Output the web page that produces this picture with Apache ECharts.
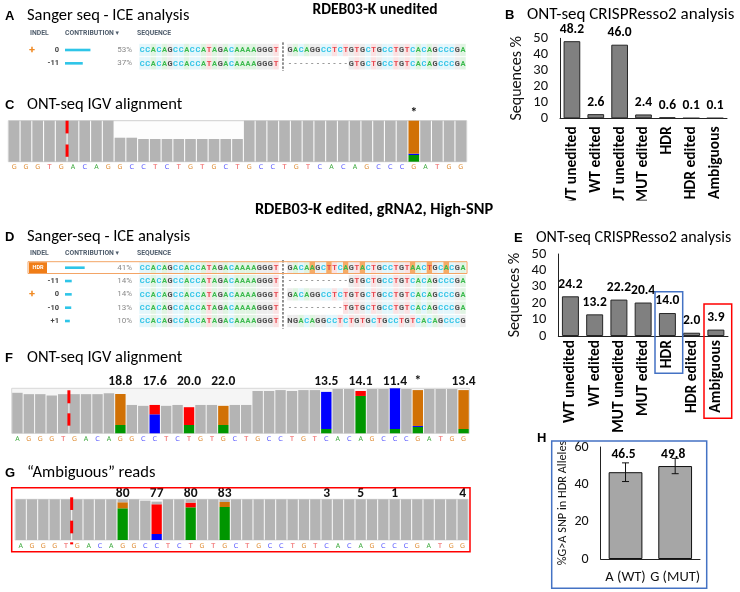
<!DOCTYPE html>
<html><head><meta charset="utf-8">
<script src="https://cdn.jsdelivr.net/npm/echarts/dist/echarts.min.js"></script>
<style>html,body{margin:0;padding:0;background:#fff}#c{width:740px;height:592px}</style>
</head><body><div id="c"></div>
<script>
// ---------------- DATA ----------------
const ontCategories = ['WT unedited','WT edited','MUT unedited','MUT edited','HDR','HDR edited','Ambiguous'];
const ontUnedited = [48.2, 2.6, 46.0, 2.4, 0.6, 0.1, 0.1];
const ontEdited = [24.2, 13.2, 22.2, 20.4, 14.0, 2.0, 3.9];
const ontTicks = [0, 10, 20, 30, 40, 50];

const snpCategories = ['A (WT)', 'G (MUT)'];
const snpValues = [46.5, 49.8];
const snpErrors = [5.0, 4.1];

const iceRefLeft = 'CCACAGCCACCATAGACAAAAGGGT';
const iceA_indels = ['0', '-11'];
const iceA_contrib = [53, 37];
const iceA_right = ['GACAGGCCTCTGTGCTGCCTGTCACAGCCCGA', '-----------GTGCTGCCTGTCACAGCCCGA'];
const iceD_indels = ['HDR', '-11', '0', '-10', '+1'];
const iceD_contrib = [41, 14, 14, 13, 10];
const iceD_right = [
  'GACAAGCTTCAGTACTGCCTGTAACTGCACGA',
  '-----------GTGCTGCCTGTCACAGCCCGA',
  'GACAGGCCTCTGTGCTGCCTGTCACAGCCCGA',
  '----------TGTGCTGCCTGTCACAGCCCGA',
  'NGACAGGCCTCTGTGCTGCCTGTCACAGCCCG'];

// IGV panel C (unedited)
const igvC_bases = 'GGGTGACAGGCCTCTGTGCTGCCTGTCACAGCCCGATGG'.split('');
const igvC_depth = [100,100,100,100,100,100,100,100,100,58.5,58.5,55.3,55.3,55.3,55.3,55.3,55.3,55.3,55.3,55.3,
  100,100,100,100,100,100,100,100,100,100,100,100,100,100,100,100,100,100,100];
const igvC_snvCols = [34];
const igvC_snvA = [16.3], igvC_snvC = [3.3], igvC_snvG = [80.4], igvC_snvT = [0];
const igvC_labelCols = [34], igvC_labels = ['*'];
const igvC_cutSegs = [[69, 100], [12, 42]];

// IGV panel F (edited)
const igvF_bases = 'AGGGTGACAGGCCTCTGTGCTGCCTGTCACAGCCCGATGG'.split('');
const igvF_depth = [90,87,87,84,87,87,87,87,89,87, 63,61,63,61,63,58,63,63,61,63,63,
  94,94,96,94,96,96,92,98.5,98.5,94,98.5,98.5,100,98.5,96,98.5,98.5,98.5,96];
const igvF_snvCols = [9,12,15,18,27,30,33,35,39];
const igvF_snvA = [18.5,0,18.5,18.5,9.6,83,9.6,14.1,9.6];
const igvF_snvC = [0,42.2,0,0,82.4,0,90.4,2.2,0];
const igvF_snvG = [68.9,0,0,42.5,0,0,0,79.7,86.4];
const igvF_snvT = [0,20.8,39.5,0,0,11,0,0,0];
const igvF_labelCols = [9,12,15,18,27,30,33,35,39];
const igvF_labels = ['18.8','17.6','20.0','22.0','13.5','14.1','11.4','*','13.4'];
const igvF_cutSegs = [[66.7, 95.6], [17, 44.4]];

// IGV panel G (ambiguous reads)
const igvG_bases = 'AGGGTGACAGGCCTCTGTGCTGCCTGTCACAGCCCGATGG'.split('');
const igvG_depth = [100,100,100,100,100,100,100,100,100,100,100,96.7,94.3,100,100,100,100,100,100,100,
  100,100,100,100,100,100,100,100,100,100,100,100,100,100,100,100,100,100,100,100];
const igvG_snvCols = [9,12,15,18];
const igvG_snvA = [77.9,0,80.3,81.1];
const igvG_snvC = [0,14.8,0,0];
const igvG_snvG = [14.8,0,0,12.3];
const igvG_snvT = [0,73,11.5,0];
const igvG_labelCols = [9,12,15,18,27,30,33,39];
const igvG_labels = ['80','77','80','83','3','5','1','4'];
const igvG_cutSegs = [[73.8, 104.9], [16.4, 47.5], [-10.7, -5.7]];

// ---------------- STYLE ----------------
const FF = 'Carlito, Lato, "Noto Sans", sans-serif';
const ICEF = 'Roboto, "DejaVu Sans", sans-serif';
const baseColor = {A:'#3dbb4f', C:'#2fc3e6', G:'#4a4a4a', T:'#e6464e', N:'#4a4a4a', '-':'#8a8a8a'};
const baseBg = {A:'#e0f4e2', C:'#e3f6fb', G:'#ededed', T:'#fbe2e3', N:'#ededed', '-':'rgba(0,0,0,0)'};
const igvColor = {A:'#009600', C:'#0000ff', G:'#d17105', T:'#ff0000', R:'#b4b4b4'};
const igvLetter = {A:'#3aa83a', C:'#5a5aff', G:'#e0903a', T:'#ee5050'};
const CELL = 5.58, GAP = 1.5, SEQ_TOTAL = iceRefLeft.length + GAP + 32;

const grid = [], xAxis = [], yAxis = [], series = [];

function addGrid(g) { g.outerBoundsMode = 'none'; grid.push(g); return grid.length - 1; }

const markRich = {
  p: {color: '#f08a24', fontSize: 11, fontWeight: 'bold', fontFamily: ICEF},
  tag: {width: 18, height: 11, align: 'center', backgroundColor: '#f07d17', color: '#fff', fontSize: 5.5, fontWeight: 'bold', fontFamily: ICEF}
};

function addIce(indels, contrib, right, y0, step) {
  const n = indels.length, top = y0 - step / 2, height = step * n;
  const rowIds = indels.map((_, i) => 'r' + i);
  const g1 = addGrid({left: 65, top: top, width: 48, height: height});
  const x1 = xAxis.length; xAxis.push({type: 'value', gridIndex: g1, min: 0, max: 100, show: false});
  const yl = yAxis.length;
  yAxis.push({type: 'category', gridIndex: g1, data: rowIds, inverse: true,
    axisLine: {show: false}, axisTick: {show: false}, splitLine: {show: false},
    axisLabel: {margin: 6, formatter: (v, i) => (indels[i] === 'HDR' ? '' : indels[i]),
      fontSize: 7.5, fontWeight: 'bold', color: '#454545', fontFamily: ICEF}});
  yAxis.push({type: 'category', gridIndex: g1, position: 'left', offset: 36, data: rowIds, inverse: true,
    axisLine: {show: false}, axisTick: {show: false}, splitLine: {show: false},
    axisLabel: {margin: 0, align: 'left', rich: markRich,
      formatter: (v, i) => (indels[i] === 'HDR' ? '{tag|HDR}' : (indels[i] === '0' ? '{p|+}' : ' '))}});
  yAxis.push({type: 'category', gridIndex: g1, position: 'right', inverse: true, data: contrib.map(v => v + '%'),
    axisLine: {show: false}, axisTick: {show: false}, splitLine: {show: false},
    axisLabel: {margin: 19, align: 'right', fontSize: 8, color: '#8a8a8a', fontFamily: ICEF}});
  series.push({type: 'bar', xAxisIndex: x1, yAxisIndex: yl, data: contrib, barWidth: 2.6,
    itemStyle: {color: '#2ec5e8'}, silent: true});

  const g2 = addGrid({left: 139.3, top: top, width: SEQ_TOTAL * CELL, height: height});
  const x2 = xAxis.length; xAxis.push({type: 'value', gridIndex: g2, min: 0, max: SEQ_TOTAL, show: false});
  const y2 = yAxis.length; yAxis.push({type: 'category', gridIndex: g2, data: rowIds, inverse: true, show: false});
  const wt = right[indels.indexOf('0')];
  const cells = [];
  right.forEach((seq, r) => {
    for (let k = 0; k < iceRefLeft.length; k++) cells.push({x: k + 0.5, r: r, ch: iceRefLeft[k], hl: false});
    for (let j = 0; j < seq.length; j++)
      cells.push({x: iceRefLeft.length + GAP + j + 0.5, r: r, ch: seq[j], hl: indels[r] === 'HDR' && seq[j] !== wt[j]});
  });
  series.push({type: 'custom', xAxisIndex: x2, yAxisIndex: y2, silent: true,
    data: cells.map(c => [c.x, c.r]),
    renderItem: function (params, api) {
      const c = cells[params.dataIndex];
      const p = api.coord([api.value(0), api.value(1)]);
      const s = api.size([1, 1]);
      return {type: 'group', children: [
        {type: 'rect', shape: {x: p[0] - s[0] / 2, y: p[1] - s[1] / 2 + 0.5, width: s[0], height: s[1] - 1},
          style: {fill: c.hl ? '#f6ab66' : baseBg[c.ch]}},
        {type: 'text', style: {text: c.ch, x: p[0], y: p[1] + 0.5, align: 'center', verticalAlign: 'middle',
          textAlign: 'center', textVerticalAlign: 'middle', fill: baseColor[c.ch], font: 'bold 7.5px Roboto'}}
      ]};
    }});
  series.push({type: 'custom', xAxisIndex: x2, yAxisIndex: y2, silent: true,
    data: [[iceRefLeft.length + GAP / 2, 0]],
    renderItem: function (params, api) {
      const cs = params.coordSys;
      const x = api.coord([api.value(0), 0])[0];
      return {type: 'line', shape: {x1: x, y1: cs.y - 1, x2: x, y2: cs.y + cs.height + 1},
        style: {stroke: '#222', lineWidth: 1, lineDash: [2.5, 1.5]}};
    }});
}

const igvRich = {};
['A', 'C', 'G', 'T'].forEach(b => { igvRich[b] = {color: igvLetter[b], fontSize: 6.5, fontFamily: 'DejaVu Sans'}; });

function addIgv(o) {
  const n = o.bases.length;
  const gi = addGrid({left: o.left, top: o.top, width: o.width, height: o.height, show: true,
    backgroundColor: o.bg, borderColor: o.border, borderWidth: 1});
  const xb = xAxis.length;
  xAxis.push({type: 'category', gridIndex: gi, data: o.bases.map((b, i) => 'c' + i),
    axisLine: {show: false}, axisTick: {show: false}, splitLine: {show: false},
    axisLabel: {interval: 0, margin: 2.5, formatter: (v, i) => '{' + o.bases[i] + '|' + o.bases[i] + '}', rich: igvRich}});
  const topLabels = new Array(n).fill(' ');
  o.labelCols.forEach((c, i) => { topLabels[c] = o.labels[i]; });
  xAxis.push({type: 'category', gridIndex: gi, position: 'top', data: o.bases.map((b, i) => 't' + i),
    axisLine: {show: false}, axisTick: {show: false}, splitLine: {show: false},
    axisLabel: {interval: 0, margin: o.topMargin, formatter: (v, i) => topLabels[i],
      fontSize: 13.5, fontWeight: 'bold', color: '#111', fontFamily: FF}});
  const yi = yAxis.length;
  yAxis.push({type: 'value', gridIndex: gi, min: 0, max: 100, show: false});
  const snv = {A: o.snvA, C: o.snvC, G: o.snvG, T: o.snvT};
  ['A', 'C', 'G', 'T'].forEach(b => {
    const d = new Array(n).fill(0);
    o.snvCols.forEach((c, i) => { d[c] = snv[b][i]; });
    series.push({type: 'bar', xAxisIndex: xb, yAxisIndex: yi, stack: 'igv' + gi, data: d,
      barCategoryGap: '9%', itemStyle: {color: igvColor[b]}, silent: true});
  });
  const ref = o.depth.map((v, i) => {
    const k = o.snvCols.indexOf(i);
    if (k < 0) return v;
    return Math.max(0, +(v - o.snvA[k] - o.snvC[k] - o.snvG[k] - o.snvT[k]).toFixed(2));
  });
  series.push({type: 'bar', xAxisIndex: xb, yAxisIndex: yi, stack: 'igv' + gi, data: ref,
    barCategoryGap: '9%', itemStyle: {color: igvColor.R}, silent: true});
  series.push({type: 'custom', xAxisIndex: xb, yAxisIndex: yi, silent: true, z: 5,
    data: o.cutSegs.map(s => [o.cutCol, s[0], s[1]]),
    renderItem: function (params, api) {
      const bw = api.size([1, 0])[0];
      const a = api.coord([api.value(0), api.value(2)]);
      const b = api.coord([api.value(0), api.value(1)]);
      return {type: 'rect', shape: {x: a[0] - bw / 2 - 1.5, y: a[1], width: 3, height: b[1] - a[1]}, style: {fill: '#ff0000'}};
    }});
}

function addOnt(vals, rect, labelMargin) {
  const gi = addGrid({left: rect.left, top: rect.top, width: rect.width, height: rect.height});
  const xi = xAxis.length;
  xAxis.push({type: 'category', gridIndex: gi, data: ontCategories,
    axisLine: {show: true, lineStyle: {color: '#222', width: 1}}, axisTick: {show: false},
    axisLabel: {interval: 0, rotate: 90, margin: labelMargin, fontSize: 15.5, fontWeight: 'bold', color: '#000', fontFamily: FF}});
  const yi = yAxis.length;
  yAxis.push({type: 'value', gridIndex: gi, min: ontTicks[0], max: ontTicks[ontTicks.length - 1], interval: ontTicks[1] - ontTicks[0],
    axisLine: {show: true, lineStyle: {color: '#222', width: 1}}, axisTick: {show: false}, splitLine: {show: false},
    axisLabel: {margin: 12, fontSize: 14.5, color: '#111', fontFamily: FF},
    name: 'Sequences %', nameLocation: 'middle', nameGap: 35, nameRotate: 90,
    nameTextStyle: {fontSize: 16, color: '#111', fontFamily: FF}});
  series.push({type: 'bar', xAxisIndex: xi, yAxisIndex: yi, data: vals, barCategoryGap: '30%',
    itemStyle: {color: '#808080', borderColor: '#262626', borderWidth: 1}, silent: true,
    label: {show: true, position: 'top', distance: 5, formatter: p => p.value.toFixed(1),
      fontSize: 13.5, fontWeight: 'bold', color: '#000', fontFamily: FF}});
}

// ---------------- BUILD ----------------
addIce(iceA_indels, iceA_contrib, iceA_right, 50, 13.33);
addIce(iceD_indels, iceD_contrib, iceD_right, 267.7, 13.33);

addIgv({bases: igvC_bases, depth: igvC_depth, snvCols: igvC_snvCols, snvA: igvC_snvA, snvC: igvC_snvC, snvG: igvC_snvG, snvT: igvC_snvT,
  labelCols: igvC_labelCols, labels: igvC_labels, cutCol: 5, cutSegs: igvC_cutSegs,
  left: 8.3, top: 120.7, width: 458.4, height: 41, bg: '#fdfdfd', border: '#cfcfcf', topMargin: 0});
addIgv({bases: igvF_bases, depth: igvF_depth, snvCols: igvF_snvCols, snvA: igvF_snvA, snvC: igvF_snvC, snvG: igvF_snvG, snvT: igvF_snvT,
  labelCols: igvF_labelCols, labels: igvF_labels, cutCol: 5, cutSegs: igvF_cutSegs,
  left: 11.7, top: 388.3, width: 457.6, height: 45, bg: '#f5f5f5', border: '#d8d8d8', topMargin: 0});
addIgv({bases: igvG_bases, depth: igvG_depth, snvCols: igvG_snvCols, snvA: igvG_snvA, snvC: igvG_snvC, snvG: igvG_snvG, snvT: igvG_snvT,
  labelCols: igvG_labelCols, labels: igvG_labels, cutCol: 5, cutSegs: igvG_cutSegs,
  left: 15, top: 499.3, width: 453.3, height: 40.7, bg: '#fafafa', border: '#dcdcdc', topMargin: -1.5});

addOnt(ontUnedited, {left: 560, top: 38.3, width: 167, height: 80}, 8);
addOnt(ontEdited, {left: 558.3, top: 254, width: 169.7, height: 82}, 4);

// Panel H
(function () {
  const gi = addGrid({left: 600.7, top: 447, width: 99.3, height: 112});
  const xi = xAxis.length;
  xAxis.push({type: 'category', gridIndex: gi, data: snpCategories,
    axisLine: {show: true, lineStyle: {color: '#222', width: 1}}, axisTick: {show: false},
    axisLabel: {interval: 0, margin: 11, fontSize: 14.5, color: '#111', fontFamily: FF}});
  const yi = yAxis.length;
  yAxis.push({type: 'value', gridIndex: gi, min: 0, max: 60, interval: 20,
    axisLine: {show: true, lineStyle: {color: '#222', width: 1}}, axisTick: {show: false}, splitLine: {show: false},
    axisLabel: {margin: 12, fontSize: 14, color: '#111', fontFamily: FF},
    name: '%G>A SNP in HDR Alleles', nameLocation: 'middle', nameGap: 32, nameRotate: 90,
    nameTextStyle: {fontSize: 12.3, color: '#111', fontFamily: FF}});
  series.push({type: 'bar', xAxisIndex: xi, yAxisIndex: yi, data: snpValues, barCategoryGap: '32%',
    itemStyle: {color: '#a6a6a6', borderColor: '#111', borderWidth: 1}, silent: true});
  series.push({type: 'custom', xAxisIndex: xi, yAxisIndex: yi, silent: true, z: 5,
    data: snpValues.map((v, i) => [i, v, snpErrors[i]]),
    renderItem: function (params, api) {
      const i = api.value(0), v = api.value(1), e = api.value(2);
      const hi = api.coord([i, v + e]), lo = api.coord([i, v - e]);
      const topY = api.coord([i, 60])[1];
      const cap = 3.5;
      const st = {stroke: '#111', lineWidth: 1};
      return {type: 'group', children: [
        {type: 'line', shape: {x1: hi[0], y1: hi[1], x2: lo[0], y2: lo[1]}, style: st},
        {type: 'line', shape: {x1: hi[0] - cap, y1: hi[1], x2: hi[0] + cap, y2: hi[1]}, style: st},
        {type: 'line', shape: {x1: lo[0] - cap, y1: lo[1], x2: lo[0] + cap, y2: lo[1]}, style: st},
        {type: 'text', style: {text: v.toFixed(1), x: hi[0] - 2, y: topY + 8, align: 'center', verticalAlign: 'middle',
          textAlign: 'center', textVerticalAlign: 'middle', fill: '#000', font: 'bold 13.5px ' + FF}}
      ]};
    }});
})();

// ---------------- TEXT / ANNOTATIONS ----------------
function txt(t, x, y, font, opt) {
  opt = opt || {};
  return {type: 'text', x: x, y: y, z: 50, silent: true,
    style: {text: t, font: font, fill: opt.fill || '#000', align: opt.align || 'left', verticalAlign: 'middle',
      textAlign: opt.align || 'left', textVerticalAlign: 'middle'}};
}
function box(x, y, w, h, color, lw) {
  return {type: 'rect', z: 60, silent: true, shape: {x: x, y: y, width: w, height: h},
    style: {fill: 'none', stroke: color, lineWidth: lw || 1.5}};
}
const PL = 'bold 13px "Liberation Sans", Arial, sans-serif';
const TT = '16.5px ' + FF;
const HDRF = 'bold 6.8px ' + ICEF;
const elements = [
  {type: 'rect', z: 40, silent: true, shape: {x: 552, y: 200.5, width: 188, height: 24}, style: {fill: '#fff'}},
  txt('A', 5, 16, PL), txt('Sanger seq - ICE analysis', 27, 16, TT),
  txt('RDEB03-K unedited', 375, 10, 'bold 15.5px ' + FF, {align: 'center'}),
  txt('INDEL', 30, 33.3, HDRF, {fill: '#4f5d6c'}), txt('CONTRIBUTION \u25BE', 65, 33.3, HDRF, {fill: '#4f5d6c'}),
  txt('SEQUENCE', 137, 33.3, HDRF, {fill: '#4f5d6c'}),
  txt('B', 505, 15, PL), txt('ONT-seq CRISPResso2 analysis', 527, 15, '17px ' + FF),
  txt('C', 5, 105, PL), txt('ONT-seq IGV alignment', 27, 105, TT),
  txt('RDEB03-K edited, gRNA2, High-SNP', 374, 210, 'bold 16.3px ' + FF, {align: 'center'}),
  txt('D', 5, 237, PL), txt('Sanger-seq - ICE analysis', 27, 237, TT),
  txt('INDEL', 30, 253.5, HDRF, {fill: '#4f5d6c'}), txt('CONTRIBUTION \u25BE', 65, 253.5, HDRF, {fill: '#4f5d6c'}),
  txt('SEQUENCE', 137, 253.5, HDRF, {fill: '#4f5d6c'}),
  box(28, 261.7, 439, 11.8, '#f3a566', 1),
  txt('E', 514, 238, PL), txt('ONT-seq CRISPResso2 analysis', 536, 238, '16px ' + FF),
  box(655, 291.7, 27.7, 81.6, '#4472c4', 1.5),
  box(704, 304, 27.7, 114.3, '#ff0000', 1.5),
  txt('F', 5, 358, PL), txt('ONT-seq IGV alignment', 27, 358, TT),
  txt('G', 5, 473, PL), txt('\u201CAmbiguous\u201D reads', 27, 473, TT),
  box(11.7, 487.7, 458.3, 64, '#ff0000', 1.5),
  txt('H', 537, 438, PL),
  box(551.7, 441, 155, 147.3, '#4472c4', 1.5)
];

const chart = echarts.init(document.getElementById('c'), null, {renderer: 'canvas'});
chart.setOption({
  animation: false,
  backgroundColor: '#fff',
  grid: grid, xAxis: xAxis, yAxis: yAxis, series: series,
  graphic: {elements: elements}
});
</script>
</body></html>
